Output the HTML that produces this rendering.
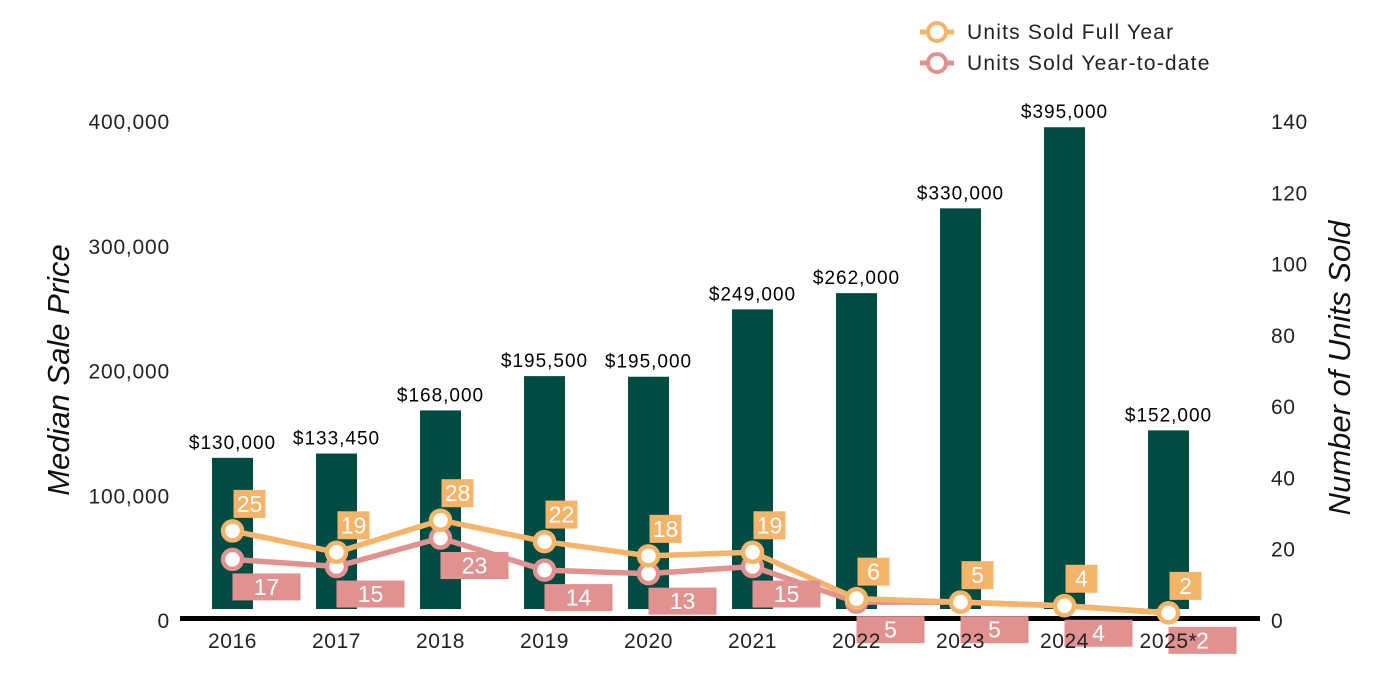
<!DOCTYPE html>
<html><head><meta charset="utf-8"><style>
html,body{margin:0;padding:0;background:#fff;}
svg{display:block;font-family:"Liberation Sans",Arial,sans-serif;}
</style></head><body>
<svg id="chart" width="1400" height="700" viewBox="0 0 1400 700" xmlns="http://www.w3.org/2000/svg">
<g id="legend">
  <g>
    <line x1="920" y1="32" x2="954" y2="32" stroke="#F5B46A" stroke-width="5"/>
    <circle cx="937" cy="32" r="9" fill="#fff" stroke="#F5B46A" stroke-width="4"/>
    <text x="967" y="39" font-size="21" letter-spacing="1.2" fill="#222">Units Sold Full Year</text>
  </g>
  <g>
    <line x1="920" y1="63" x2="954" y2="63" stroke="#E29191" stroke-width="5"/>
    <circle cx="937" cy="63" r="9" fill="#fff" stroke="#E29191" stroke-width="4"/>
    <text x="967" y="70" font-size="21" letter-spacing="1.2" fill="#222">Units Sold Year-to-date</text>
  </g>
</g>
<text transform="translate(69,370) rotate(-90)" text-anchor="middle" font-size="31" font-style="italic" fill="#111">Median Sale Price</text>
<text transform="translate(1350,368) rotate(-90)" text-anchor="middle" font-size="31" font-style="italic" fill="#111">Number of Units Sold</text>
<g id="leftTicks"></g>
<g id="rightTicks"></g>
<g id="bars"></g>
<rect x="180" y="616" width="1080" height="5" fill="#000"/>
<g id="lines"></g>
<g id="xTicks"></g>
</svg>
<script>
const categories = ["2016","2017","2018","2019","2020","2021","2022","2023","2024","2025*"];
const medianPrice = [130000,133450,168000,195500,195000,249000,262000,330000,395000,152000];
const priceLabels = ["$130,000","$133,450","$168,000","$195,500","$195,000","$249,000","$262,000","$330,000","$395,000","$152,000"];
const unitsFullYear = [25,19,28,22,18,19,6,5,4,2];
const unitsYTD = [17,15,23,14,13,15,5,5,4,2];
const leftTickValues = [0,100000,200000,300000,400000];
const leftTickLabels = ["0","100,000","200,000","300,000","400,000"];
const rightTickValues = [0,20,40,60,80,100,120,140];

const NS = "http://www.w3.org/2000/svg";
const y0 = 620, yTop = 121;
function yL(v){ return y0 - v/400000*(y0-yTop); }
function yR(v){ return y0 - v/140*(y0-yTop); }
function xC(i){ return 232.5 + i*104; }
function mk(tag, attrs, parent){ const e=document.createElementNS(NS,tag); for(const k in attrs) e.setAttribute(k,attrs[k]); parent.appendChild(e); return e; }

const lt=document.getElementById('leftTicks');
leftTickValues.forEach((v,i)=>{
  const t=mk('text',{x:170,y:yL(v)+8,'text-anchor':'end','font-size':21,'letter-spacing':0.8,fill:'#222'},lt);
  
  
  t.textContent=leftTickLabels[i];
});
const rt=document.getElementById('rightTicks');
rightTickValues.forEach(v=>{
  const t=mk('text',{x:1271,y:yR(v)+8,'font-size':21,'letter-spacing':0.6,fill:'#222'},rt);
  
  
  t.textContent=String(v);
});
const bars=document.getElementById('bars');
medianPrice.forEach((v,i)=>{
  const top=yL(v);
  const r=mk('rect',{x:xC(i)-20.5,y:top,width:41,height:609-top,fill:'#004C42'},bars);
  
  
  const t=mk('text',{x:xC(i),y:top-9,'text-anchor':'middle','font-size':19,'letter-spacing':1,fill:'#000'},bars);
  
  
  t.textContent=priceLabels[i];
});
const lines=document.getElementById('lines');
function series(vals,color,name,labelAbove){
  const pts=vals.map((v,i)=>xC(i)+','+yR(v)).join(' ');
  const pl=mk('polyline',{points:pts,fill:'none',stroke:color,'stroke-width':5.5,'stroke-linejoin':'round'},lines);
  
  
  vals.forEach((v,i)=>{
    const c=mk('circle',{cx:xC(i),cy:yR(v),r:9.5,fill:'#fff',stroke:color,'stroke-width':4.5},lines);
    
    
  });
  return ()=>vals.forEach((v,i)=>{
    const px=xC(i), py=yR(v);
    let bx,by,bw,bh;
    if(labelAbove){ bx=px+1; by=py-41; bw=32; bh=28; }
    else { bx=px; by=py+14; bw=68; bh=27; }
    const b=mk('rect',{x:bx,y:by,width:bw,height:bh,fill:color},lines);
    
    
    const t=mk('text',{x:bx+bw/2,y:by+bh/2+8,'text-anchor':'middle','font-size':23,fill:'#fff'},lines);
    
    
    t.textContent=String(v);
  });
}
const ytdLabels=series(unitsYTD,'#E29191','ytd',false);
const fullLabels=series(unitsFullYear,'#F5B46A','full-year',true);
ytdLabels(); fullLabels();
const xt=document.getElementById('xTicks');
categories.forEach((c,i)=>{
  const t=mk('text',{x:xC(i),y:648,'text-anchor':'middle','font-size':21,'letter-spacing':0.6,fill:'#222'},xt);
  
  
  t.textContent=c;
});
</script>
</body></html>
